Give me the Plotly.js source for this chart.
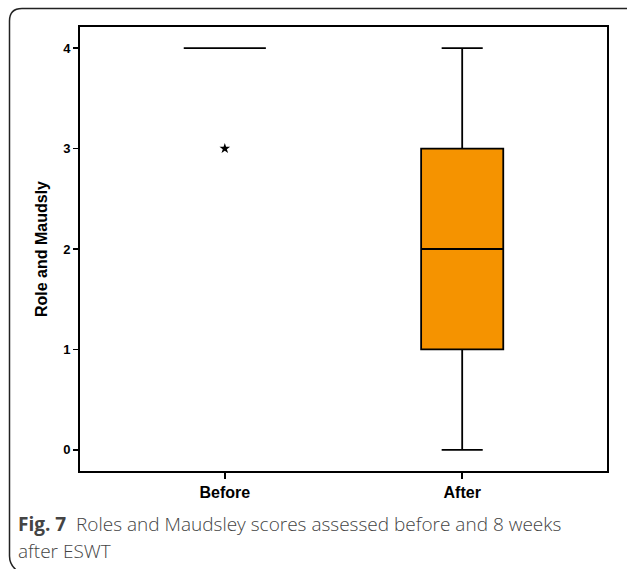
<!DOCTYPE html>
<html>
<head>
<meta charset="utf-8">
<script src="https://cdn.plot.ly/plotly-3.0.1.min.js"></script>
<style>
html,body{margin:0;padding:0;background:#fff;}
#chart{width:627px;height:569px;}
</style>
</head>
<body>
<div id="chart"></div>
<script>
// ---- data ----
const categories = ["Before", "After"];
const q1Values = [4, 1];
const medianValues = [4, 2];
const q3Values = [4, 3];
const lowerWhisker = [4, 0];
const upperWhisker = [4, 4];
const outlierCategories = ["Before"];
const outlierValues = [3];
const yTickValues = [0, 1, 2, 3, 4];
const yTickLabels = ["0", "1", "2", "3", "4"];
const yAxisTitle = "Role and Maudsly";
const captionBold = "Fig. 7";
const captionLine1 = "Roles and Maudsley scores assessed before and 8 weeks";
const captionLine2 = "after ESWT";

// ---- layout helpers (pixel -> paper) ----
const W = 627, H = 569;
const M = {l: 80, r: 20, t: 27, b: 98};
const PW = W - M.l - M.r, PH = H - M.t - M.b;
const X = px => (px - M.l) / PW;
const Y = py => (H - M.b - py) / PH;

const boxTrace = {
  type: "box",
  x: categories,
  q1: q1Values,
  median: medianValues,
  q3: q3Values,
  lowerfence: lowerWhisker,
  upperfence: upperWhisker,
  boxpoints: false,
  width: 0.346,
  whiskerwidth: 0.5,
  fillcolor: "#F59300",
  line: {color: "#000", width: 1.8},
  hoverinfo: "skip",
  showlegend: false
};

const outlierTrace = {
  type: "scatter",
  mode: "markers",
  x: outlierCategories,
  y: outlierValues,
  marker: {symbol: "star", size: 8, color: "#000"},
  hoverinfo: "skip",
  showlegend: false
};

const tickFont = {family: "Liberation Sans, Arial, sans-serif", size: 13, color: "#000", weight: "bold"};

const layout = {
  width: W, height: H,
  margin: M,
  paper_bgcolor: "#fff",
  plot_bgcolor: "#fff",
  font: {family: "Liberation Sans, Arial, sans-serif", color: "#000"},
  xaxis: {
    type: "category",
    categoryorder: "array",
    categoryarray: categories,
    range: [-0.61, 1.61],
    showline: true, mirror: true, linecolor: "#000", linewidth: 2,
    showgrid: false, zeroline: false,
    ticks: "outside", ticklen: 6, tickwidth: 1.5, tickcolor: "#000",
    tickfont: {family: "Liberation Sans, Arial, sans-serif", size: 16, color: "#000", weight: "bold"},
    fixedrange: true
  },
  yaxis: {
    range: [-0.21, 4.21],
    tickvals: yTickValues,
    ticktext: yTickLabels,
    showline: true, mirror: true, linecolor: "#000", linewidth: 2,
    showgrid: false, zeroline: false,
    ticks: "outside", ticklen: 5, tickwidth: 1.5, tickcolor: "#000",
    tickfont: tickFont,
    title: {text: yAxisTitle, standoff: 12,
            font: {family: "Liberation Sans, Arial, sans-serif", size: 16, color: "#000", weight: "bold"}},
    fixedrange: true
  },
  shapes: [{
    type: "path", xref: "paper", yref: "paper",
    path: `M ${X(640)} ${Y(8.5)} L ${X(22)} ${Y(8.5)} Q ${X(9.5)} ${Y(8.5)} ${X(9.5)} ${Y(21)} L ${X(9.5)} ${Y(556)} Q ${X(9.5)} ${Y(566)} ${X(19)} ${Y(572)}`,
    line: {color: "#222", width: 1.5}
  }],
  annotations: [
    {xref: "paper", yref: "paper", x: X(16), y: Y(524), xanchor: "left", yanchor: "middle",
     showarrow: false, align: "left",
     text: `<b>${captionBold}</b>\u00a0\u00a0${captionLine1}`,
     font: {family: "Open Sans, Noto Sans, sans-serif", size: 19, color: "#444", weight: 300}},
    {xref: "paper", yref: "paper", x: X(16), y: Y(551), xanchor: "left", yanchor: "middle",
     showarrow: false, align: "left",
     text: captionLine2,
     font: {family: "Open Sans, Noto Sans, sans-serif", size: 19, color: "#444", weight: 300}}
  ]
};

Plotly.newPlot("chart", [boxTrace, outlierTrace], layout, {displayModeBar: false, staticPlot: true});
</script>
</body>
</html>
